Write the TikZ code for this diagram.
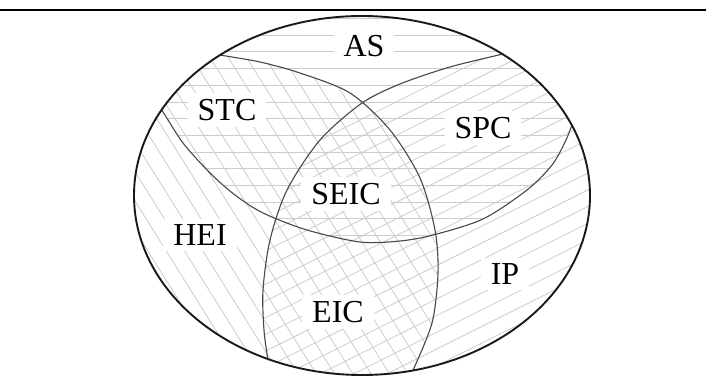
\documentclass[tikz,border=0pt]{standalone}
\usepackage{fontspec}
\setmainfont{Liberation Serif}
\begin{document}
\begin{tikzpicture}[x=1pt,y=-1pt,
  hatch/.style={draw=black!20, line width=0.8pt},
  bound/.style={draw=black!72, line width=1.1pt},
  outer/.style={draw=black!90, line width=1.9pt},
  lbl/.style={fill=white, inner xsep=10pt, inner ysep=6pt, font=\fontsize{32}{32}\selectfont},
]
\useasboundingbox (0,0) rectangle (710,380);
% top rule
\coordinate (tl) at (0,10);
\coordinate (tr) at (706,10);
\draw[black, line width=1.5pt] (tl) -- (tr);
% outer ellipse centre
\coordinate (c) at (362,195.5);

\begin{scope}
  \clip (c) ellipse [x radius=228, y radius=179.5];
  % horizontal hatching: region above R
  \begin{scope}
    \clip plot[smooth] coordinates {(150,95) (163,112) (183,143) (210,173) (235,195) (263,213) (307,230) (360,242) (400,241) (433,235) (483,219) (527,190) (552,165) (566,140) (575,116) (580,98)}
      -- (580,-20) -- (150,-20) -- cycle;
    \foreach \y in {1.7,18.4,...,260} {\draw[hatch] (100,\y) -- (620,\y);}
  \end{scope}
  % steep "\" hatching: region left of Q
  \begin{scope}
    \clip plot[smooth] coordinates {(200,51) (220,55) (260,62) (300,73) (350,93) (390,130) (420,178) (435,230) (438,273) (432,323) (412,373) (405,392)}
      -- (405,420) -- (-20,420) -- (-20,-20) -- (200,-20) -- cycle;
    \foreach \x in {-320,-301.7,...,500} {\draw[hatch] (\x,0) -- (\x+250,400);}
  \end{scope}
  % shallow "/" hatching: region right of P
  \begin{scope}
    \clip plot[smooth] coordinates {(525,48) (507,53) (450,67) (400,84) (362,103) (320,140) (287,190) (270,240) (263,290) (264,330) (268,362) (270,390)}
      -- (270,420) -- (740,420) -- (740,-20) -- (525,-20) -- cycle;
    \foreach \y in {200,216.7,...,700} {\draw[hatch] (100,\y) -- (650,\y-275);}
  \end{scope}
  % boundary curves
  \draw[bound] plot[smooth] coordinates {(150,95) (163,112) (183,143) (210,173) (235,195) (263,213) (307,230) (360,242) (400,241) (433,235) (483,219) (527,190) (552,165) (566,140) (575,116) (580,98)};
  \draw[bound] plot[smooth] coordinates {(200,51) (220,55) (260,62) (300,73) (350,93) (390,130) (420,178) (435,230) (438,273) (432,323) (412,373) (405,392)};
  \draw[bound] plot[smooth] coordinates {(525,48) (507,53) (450,67) (400,84) (362,103) (320,140) (287,190) (270,240) (263,290) (264,330) (268,362) (270,390)};
\end{scope}
\draw[outer] (c) ellipse [x radius=228, y radius=179.5];

% labels
\node[lbl] (as)   at (364,46)  {AS};
\node[lbl] (stc)  at (227,110) {STC};
\node[lbl] (spc)  at (483,128) {SPC};
\node[lbl] (seic) at (346,194) {SEIC};
\node[lbl] (hei)  at (200,235) {HEI};
\node[lbl] (eic)  at (338,312) {EIC};
\node[lbl] (ip)   at (505,274) {IP};
\end{tikzpicture}
\end{document}
